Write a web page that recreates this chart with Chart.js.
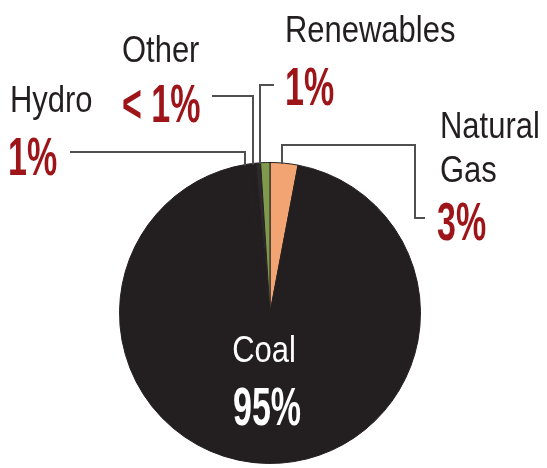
<!DOCTYPE html>
<html>
<head>
<meta charset="utf-8">
<script src="https://cdn.jsdelivr.net/npm/chart.js@4.4.0/dist/chart.umd.min.js"></script>
<style>
  body { margin: 0; background: #fff; }
  canvas { display: block; }
</style>
</head>
<body>
<canvas id="myChart" width="547" height="468"></canvas>
<script>
// data, clockwise from 12 o'clock
const sources = ['Natural Gas', 'Coal', 'Hydro', 'Other', 'Renewables'];
const shares = [3, 95, 1, 0.5, 1];
const shareText = ['3%', '95%', '1%', '< 1%', '1%'];
const colors = ['#f2a572', '#231f20', '#231f20', '#2e2a2b', '#7f9a4c'];

const textDark = '#231f20';
const textRed = '#9e1519';
const lineGrey = '#505050';

// where the callouts go (name lines, pct position, leader path)
const callouts = {
    'Hydro': { names: [[10, 112]], pct: [8, 175], path: [[70, 152], [245, 152]], anchor: 245 },
    'Other': { names: [[122, 62]], pct: [122, 122], path: [[212, 96], [253, 96]], anchor: 253 },
    'Renewables': { names: [[285, 42]], pct: [285, 105], path: [[274, 85], [260, 85]], anchor: 260 },
    'Natural Gas': { names: [[440, 138], [440, 182]], pct: [437, 240], path: [[425, 218], [415, 218], [415, 145], [282, 145]], anchor: 282, split: ['Natural', 'Gas'] }
};

function drawText(ctx, txt, x, y, font, color, sx, align) {
    ctx.save();
    ctx.font = font;
    ctx.fillStyle = color;
    ctx.textBaseline = 'alphabetic';
    ctx.translate(x, y);
    ctx.scale(sx, 1);
    let w = ctx.measureText(txt).width;
    let dx = align === 'center' ? -w / 2 : 0;
    ctx.fillText(txt, dx, 0);
    ctx.restore();
}

const calloutPlugin = {
    id: 'callouts',
    afterDatasetsDraw(chart) {
        const ctx = chart.ctx;
        const arcs = chart.getDatasetMeta(0).data;
        const cx = arcs[0].x, cy = arcs[0].y, r = arcs[0].outerRadius;
        const nameFont = '36px "Liberation Sans", Arial, sans-serif';
        const pctFont = 'bold 54px "Liberation Sans", Arial, sans-serif';

        sources.forEach((name, i) => {
            const c = callouts[name];
            if (!c) return;
            // leader line, ending on the pie rim
            const edgeY = cy - Math.sqrt(r * r - (c.anchor - cx) * (c.anchor - cx));
            ctx.save();
            ctx.strokeStyle = lineGrey;
            ctx.lineWidth = 2;
            ctx.beginPath();
            ctx.moveTo(c.path[0][0], c.path[0][1]);
            for (let k = 1; k < c.path.length; k++) ctx.lineTo(c.path[k][0], c.path[k][1]);
            ctx.lineTo(c.anchor, edgeY + 1);
            ctx.stroke();
            ctx.restore();

            const parts = c.split || [name];
            parts.forEach((p, k) => {
                drawText(ctx, p, c.names[k][0], c.names[k][1], nameFont, textDark, 0.86, 'left');
            });
            drawText(ctx, shareText[i], c.pct[0], c.pct[1], pctFont, textRed, 0.63, 'left');
        });

        // label inside the coal slice
        const coal = sources.indexOf('Coal');
        drawText(ctx, sources[coal], cx - 6, 362, nameFont, '#ffffff', 0.86, 'center');
        drawText(ctx, shareText[coal], cx - 3, 425, pctFont, '#ffffff', 0.63, 'center');
    }
};

const data = {
    labels: sources,
    datasets: [{
        data: shares,
        backgroundColor: colors,
        borderColor: '#231f20',
        borderWidth: 1,
        hoverOffset: 0
    }]
};

const config = {
    type: 'pie',
    data: data,
    options: {
        responsive: false,
        animation: false,
        layout: { padding: { top: 162, bottom: 4, left: 0, right: 7 } },
        plugins: {
            legend: { display: false },
            tooltip: { enabled: false }
        }
    },
    plugins: [calloutPlugin]
};

const myChart = new Chart(document.getElementById('myChart'), config);
</script>
</body>
</html>
